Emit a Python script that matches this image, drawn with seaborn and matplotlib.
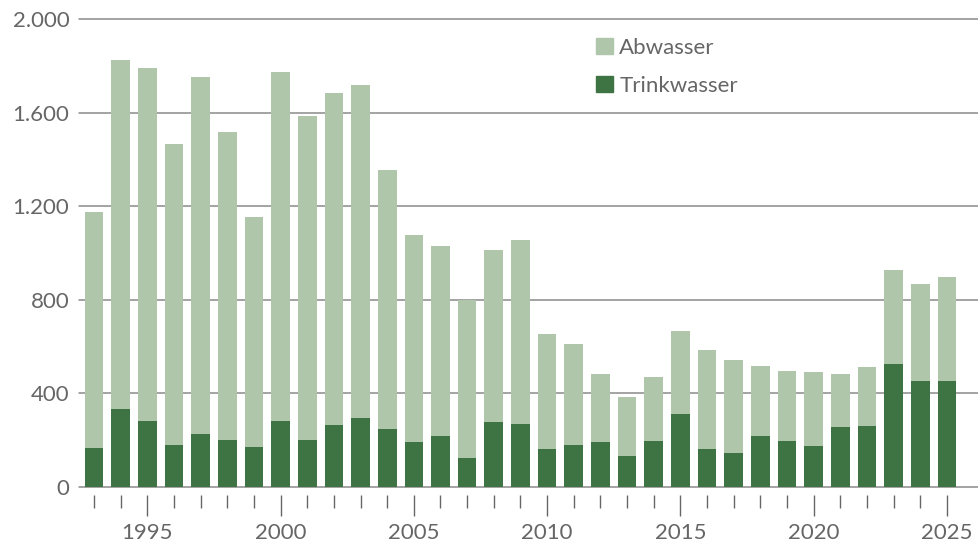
import matplotlib
matplotlib.use("Agg")
import matplotlib.pyplot as plt
import matplotlib.patches as mpatches
from matplotlib.ticker import FixedLocator, FuncFormatter
import seaborn as sns
import pandas as pd

years = list(range(1993, 2026))
trinkwasser = [166, 333, 283, 181, 228, 202, 172, 280, 202, 267, 297, 250, 193, 220, 126,
               276, 271, 163, 181, 193, 133, 198, 310, 163, 147, 220, 198, 177, 258, 262,
               527, 451, 455]
abwasser = [1011, 1492, 1507, 1284, 1523, 1314, 980, 1492, 1383, 1415, 1420, 1103, 883, 808,
            675, 735, 784, 489, 432, 288, 253, 274, 358, 424, 394, 295, 299, 313, 227, 249,
            399, 415, 441]
y_ticks = [0, 400, 800, 1200, 1600, 2000]
major_years = [1995, 2000, 2005, 2010, 2015, 2020, 2025]

LIGHT = "#b0c6ab"
DARK = "#3e7443"
TEXT = "#666666"
GRID = "#8a8a8a"

df = pd.DataFrame({"Jahr": years, "Trinkwasser": trinkwasser, "Abwasser": abwasser})
df["Gesamt"] = df["Trinkwasser"] + df["Abwasser"]

sns.set_theme(style="white")
plt.rcParams["font.family"] = ["Lato", "DejaVu Sans"]

fig = plt.figure(figsize=(9.79, 5.49), dpi=100)
ax = fig.add_axes([79 / 979, 1 - 487 / 549, 1 - 79 / 979, (487 - 19) / 549])

sns.barplot(data=df, x="Jahr", y="Gesamt", native_scale=True, color=LIGHT,
            saturation=1, width=0.7, linewidth=0, ax=ax)
sns.barplot(data=df, x="Jahr", y="Trinkwasser", native_scale=True, color=DARK,
            saturation=1, width=0.7, linewidth=0, ax=ax)

ax.set_xlim(1992.44, 2026.2)
ax.set_ylim(0, 2000)
ax.set_xlabel("")
ax.set_ylabel("")

ax.yaxis.set_major_locator(FixedLocator(y_ticks))
ax.yaxis.set_major_formatter(FuncFormatter(lambda v, p: f"{int(v):,}".replace(",", ".")))
ax.tick_params(axis="y", length=0, pad=7, labelsize=16, labelcolor=TEXT)

ax.xaxis.set_major_locator(FixedLocator(major_years))
ax.xaxis.set_minor_locator(FixedLocator([y for y in years if y not in major_years]))
ax.xaxis.set_major_formatter(FuncFormatter(lambda v, p: f"{int(v)}"))
ax.tick_params(axis="x", which="major", length=15.1, width=1, color=TEXT, pad=5,
               labelsize=16, labelcolor=TEXT, direction="out", bottom=True)
ax.tick_params(axis="x", which="minor", length=9.4, width=1, color=TEXT,
               direction="out", bottom=True)

for s in ["left", "right", "top"]:
    ax.spines[s].set_visible(False)
ax.spines["bottom"].set_position(("outward", 5.8))
ax.spines["bottom"].set_visible(False)

ax.set_axisbelow(True)
ax.yaxis.grid(True, color=GRID, linewidth=1.1)
ax.xaxis.grid(False)
for gl in ax.yaxis.get_gridlines():
    gl.set_clip_on(False)

handles = [mpatches.Patch(color=LIGHT, label="Abwasser"),
           mpatches.Patch(color=DARK, label="Trinkwasser")]
leg = fig.legend(handles=handles, loc="upper left",
                 bbox_to_anchor=(596 / 979, 1 - 38 / 549), frameon=False,
                 fontsize=16, handlelength=0.75, handleheight=0.75, handletextpad=0.3,
                 labelspacing=0.8, borderaxespad=0, borderpad=0)
for t in leg.get_texts():
    t.set_color(TEXT)

fig.savefig("out.png", dpi=100)
